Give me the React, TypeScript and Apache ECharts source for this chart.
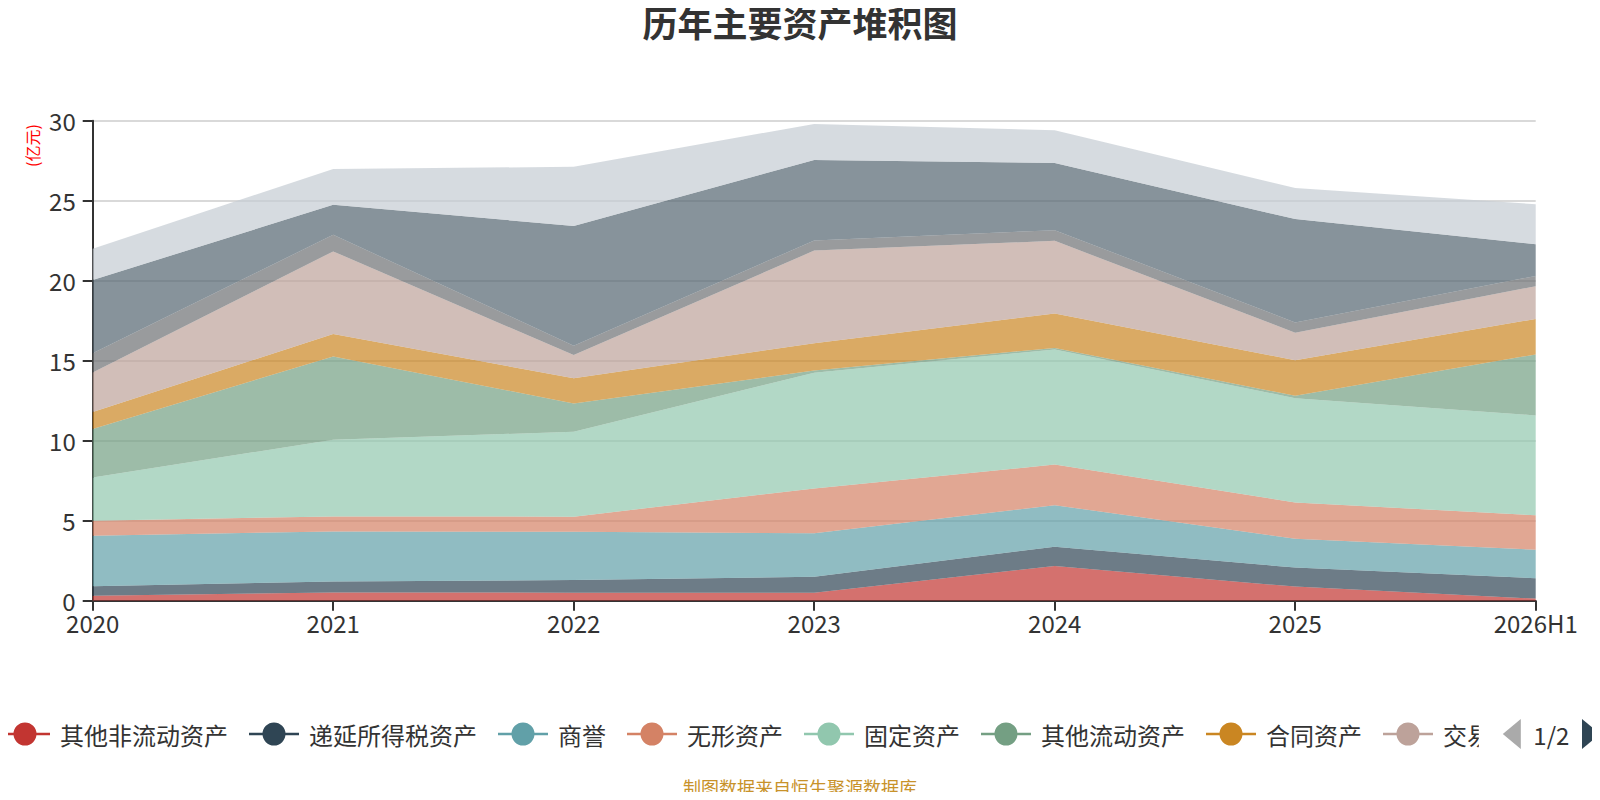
import React, { useEffect, useRef } from "react";
import * as echarts from "echarts";

const categories = ["2020", "2021", "2022", "2023", "2024", "2025", "2026H1"];
const yTicks = [0, 5, 10, 15, 20, 25, 30];

const otherNonCurrent = [0.31, 0.52, 0.5, 0.5, 2.17, 0.88, 0.13];
const deferredTax = [0.59, 0.68, 0.79, 1.0, 1.2, 1.19, 1.27];
const goodwill = [3.16, 3.13, 3.02, 2.71, 2.6, 1.8, 1.79];
const intangible = [0.94, 0.94, 0.94, 2.81, 2.54, 2.27, 2.15];
const fixedAssets = [2.7, 4.79, 5.31, 7.23, 7.19, 6.52, 6.24];
const otherCurrent = [3.03, 5.21, 1.77, 0.13, 0.1, 0.15, 3.81];
const contractAssets = [1.07, 1.4, 1.57, 1.71, 2.15, 2.22, 2.22];
const tradingFinancial = [2.47, 5.16, 1.45, 5.79, 4.54, 1.72, 2.05];
const inventory = [1.19, 1.04, 0.59, 0.63, 0.67, 0.64, 0.64];
const receivables = [4.58, 1.88, 7.48, 5.04, 4.2, 6.46, 1.98];
const cash = [1.96, 2.23, 3.7, 2.25, 2.05, 1.94, 2.5];

const seriesNames = [
  "其他非流动资产",
  "递延所得税资产",
  "商誉",
  "无形资产",
  "固定资产",
  "其他流动资产",
  "合同资产",
  "交易性金融资产",
  "存货",
  "应收账款",
  "货币资金",
];
const seriesValues = [
  otherNonCurrent,
  deferredTax,
  goodwill,
  intangible,
  fixedAssets,
  otherCurrent,
  contractAssets,
  tradingFinancial,
  inventory,
  receivables,
  cash,
];
const palette = [
  "#c23531",
  "#2f4554",
  "#61a0a8",
  "#d48265",
  "#91c7ae",
  "#749f83",
  "#ca8622",
  "#bda29a",
  "#6e7074",
  "#546570",
  "#c4ccd3",
];

const legendIcon =
  "path://M0,10.2 L50,10.2 L50,12.8 L0,12.8 Z M25,0 A11.5,11.5 0 1,1 25,23 A11.5,11.5 0 1,1 25,0 Z";

export default function App() {
  const ref = useRef<HTMLDivElement>(null);
  useEffect(() => {
    if (!ref.current) return;
    const chart = echarts.init(ref.current, null, { renderer: "svg" });
    const font = "Noto Sans CJK SC";
    chart.setOption({
      animation: false,
      color: palette,
      textStyle: { fontFamily: font },
      title: {
        text: "历年主要资产堆积图",
        left: "center",
        top: 4,
        padding: 0,
        textStyle: { fontSize: 35, fontWeight: "bold", color: "#333", fontFamily: font },
      },
      legend: {
        type: "scroll",
        left: 0,
        right: 2,
        top: 719,
        padding: 0,
        itemWidth: 50,
        itemHeight: 23,
        itemGap: 21,
        icon: legendIcon,
        textStyle: { fontSize: 24, color: "#333", fontFamily: font, padding: [0, 0, 0, 5] },
        pageButtonGap: 24,
        pageButtonItemGap: 2,
        pageIconSize: [18, 30],
        pageIconColor: "#2f4554",
        pageIconInactiveColor: "#aaa",
        pageTextStyle: { fontSize: 24, color: "#333", fontFamily: font },
        data: seriesNames,
      },
      grid: { left: 92.7, right: 64.3, top: 120.7, bottom: 199.3, containLabel: false },
      xAxis: {
        type: "category",
        data: categories,
        boundaryGap: false,
        axisLine: { lineStyle: { color: "#333", width: 2 } },
        axisTick: { show: true, length: 10, lineStyle: { color: "#333", width: 2 } },
        axisLabel: { fontSize: 24, color: "#333", margin: 10, fontFamily: font },
        splitLine: { show: false },
      },
      yAxis: {
        type: "value",
        min: yTicks[0],
        max: yTicks[yTicks.length - 1],
        interval: 5,
        axisLine: { show: true, lineStyle: { color: "#333", width: 2 } },
        axisTick: { show: true, length: 10, lineStyle: { color: "#333", width: 2 } },
        axisLabel: { fontSize: 24, color: "#333", margin: 17, fontFamily: font },
        splitLine: { show: true, lineStyle: { color: "#ccc", width: 1.5 } },
      },
      graphic: [
        {
          type: "text",
          x: 31.5,
          y: 145.5,
          rotation: Math.PI / 2,
          style: {
            text: "(亿元)",
            fill: "#ff0000",
            fontSize: 16,
            fontFamily: font,
            align: "center",
            verticalAlign: "middle",
          },
        },
        {
          type: "text",
          x: 800,
          y: 787,
          style: {
            text: "制图数据来自恒生聚源数据库",
            fill: "#c8922a",
            fontSize: 18,
            fontFamily: font,
            align: "center",
            verticalAlign: "middle",
          },
        },
      ],
      series: seriesNames.map((name, i) => ({
        name,
        type: "line",
        stack: "total",
        data: seriesValues[i],
        showSymbol: false,
        symbol: "circle",
        lineStyle: { width: 0 },
        areaStyle: { opacity: 0.7 },
        itemStyle: { color: palette[i] },
        emphasis: { disabled: true },
      })),
    });
    return () => chart.dispose();
  }, []);
  return <div ref={ref} style={{ width: 1600, height: 800, margin: -8 }} />;
}
